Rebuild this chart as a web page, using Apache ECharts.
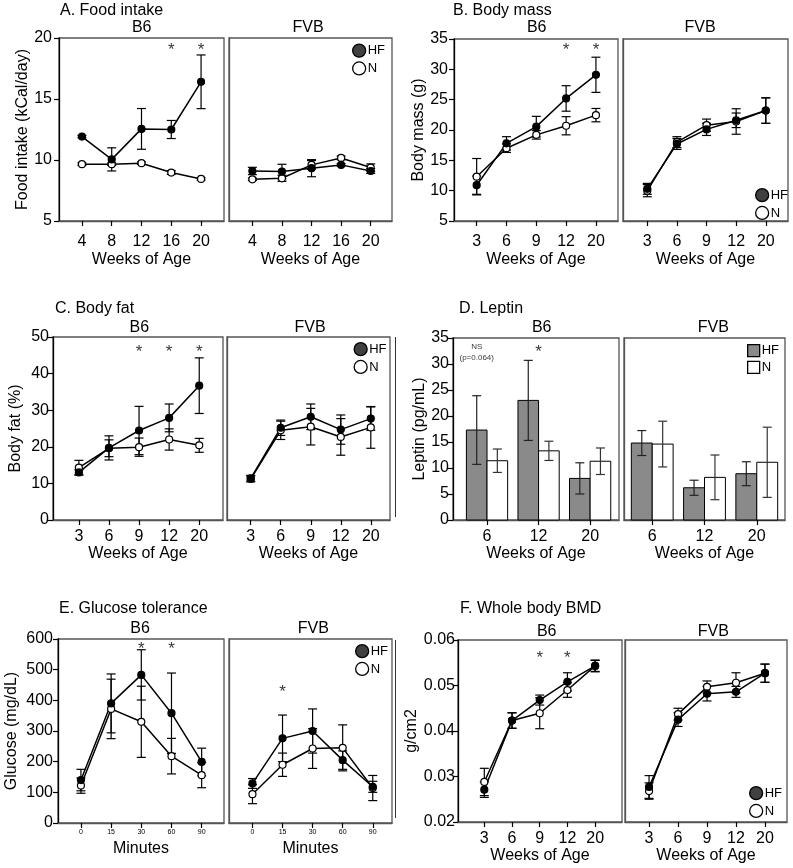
<!DOCTYPE html>
<html><head><meta charset="utf-8">
<script src="https://cdn.jsdelivr.net/npm/echarts@6/dist/echarts.min.js"></script>
<style>html,body{margin:0;padding:0;background:#fff}#c{width:793px;height:868px}</style>
</head><body><div id="c"></div>
<script>
// ---------- tick labels ----------
const weeksA = ['4','8','12','16','20'];
const weeks5 = ['3','6','9','12','20'];
const weeks3 = ['6','12','20'];
const minutes = ['0','15','30','60','90'];

// ---------- A. Food intake ----------
const foodB6_HF = [11.92, 10.05, 12.55, 12.5, 16.41];
const foodB6_HF_err = [0.1, 0.95, 1.67, 0.74, 2.2];
const foodB6_N = [9.66, 9.66, 9.74, 8.97, 8.45];
const foodB6_N_err = [0.1, 0.1, 0.1, 0.15, 0.1];
const foodFVB_HF = [9.1, 9.05, 9.33, 9.6, 9.1];
const foodFVB_HF_err = [0.3, 0.6, 0.7, 0.1, 0.2];
const foodFVB_N = [8.42, 8.5, 9.6, 10.17, 9.38];
const foodFVB_N_err = [0.1, 0.25, 0.35, 0.15, 0.3];
const foodStars = [3, 4];

// ---------- B. Body mass ----------
const massB6_HF = [10.9, 17.8, 20.55, 25.2, 29.1];
const massB6_HF_err = [1.5, 1.1, 1.7, 2.1, 2.9];
const massB6_N = [12.3, 17.0, 19.2, 20.7, 22.45];
const massB6_N_err = [3.0, 0.7, 0.7, 1.5, 1.1];
const massFVB_HF = [10.3, 17.7, 20.1, 21.6, 23.2];
const massFVB_HF_err = [0.9, 0.9, 1.0, 1.2, 2.1];
const massFVB_N = [10.0, 18.0, 20.8, 21.4, 23.2];
const massFVB_N_err = [1.0, 0.9, 1.0, 2.1, 2.1];
const massStars = [3, 4];

// ---------- C. Body fat ----------
const fatB6_HF = [13.0, 19.7, 24.45, 27.9, 36.7];
const fatB6_HF_err = [0.7, 3.3, 6.6, 3.8, 7.6];
const fatB6_N = [14.3, 19.6, 19.9, 22.0, 20.4];
const fatB6_N_err = [2.0, 2.3, 2.5, 2.9, 1.9];
const fatFVB_HF = [11.4, 25.2, 28.2, 24.7, 27.7];
const fatFVB_HF_err = [0.8, 2.1, 3.5, 4.0, 3.2];
const fatFVB_N = [11.2, 24.5, 25.5, 22.7, 25.3];
const fatFVB_N_err = [0.8, 2.5, 5.0, 5.0, 5.7];
const fatStars = [2, 3, 4];

// ---------- D. Leptin ----------
const leptinB6_HF = [17.3, 23.0, 8.0];
const leptinB6_HF_err = [6.6, 7.7, 3.0];
const leptinB6_N = [11.4, 13.3, 11.3];
const leptinB6_N_err = [2.25, 1.85, 2.55];
const leptinFVB_HF = [14.8, 6.2, 8.9];
const leptinFVB_HF_err = [2.4, 1.45, 2.3];
const leptinFVB_N = [14.6, 8.2, 11.1];
const leptinFVB_N_err = [4.4, 4.3, 6.75];
const leptinStars = [1];
const leptinNote = [{ value: [-0.2, 33.3], name: 'NS' }, { value: [-0.2, 31.1], name: '(p=0.064)' }];

// ---------- E. Glucose tolerance ----------
const gluB6_HF = [140, 390, 483, 358, 199];
const gluB6_HF_err = [35, 96, 82, 131, 45];
const gluB6_N = [122, 372, 330, 218, 156];
const gluB6_N_err = [25, 97, 116, 58, 41];
const gluFVB_HF = [129, 276, 300, 205, 118];
const gluFVB_HF_err = [16, 76, 72, 30, 18];
const gluFVB_N = [94, 190, 243, 245, 114];
const gluFVB_N_err = [31, 38, 65, 75, 41];
const gluStarsB6 = [2, 3];
const gluStarsFVB = [1];

// ---------- F. Whole body BMD ----------
const bmdB6_HF = [0.0271, 0.0423, 0.0468, 0.0508, 0.0543];
const bmdB6_HF_err = [0.0017, 0.0017, 0.0011, 0.002, 0.0013];
const bmdB6_N = [0.0288, 0.0423, 0.0439, 0.0490, 0.0543];
const bmdB6_N_err = [0.003, 0.0017, 0.0034, 0.0016, 0.0012];
const bmdFVB_HF = [0.0277, 0.0425, 0.0482, 0.0486, 0.0527];
const bmdFVB_HF_err = [0.0025, 0.0015, 0.0016, 0.0012, 0.002];
const bmdFVB_N = [0.0268, 0.0437, 0.0497, 0.0506, 0.0527];
const bmdFVB_N_err = [0.0018, 0.0013, 0.0013, 0.0022, 0.002];
const bmdStars = [2, 3];

// ================= layout & rendering =================
const FONT = '"Liberation Sans", Arial, sans-serif';
const FRAME = '#555';
const grids = [], xAxes = [], yAxes = [], series = [];

function addPanel(g) {
  const gi = grids.length;
  grids.push({ left: g.l, top: g.t, width: g.w, height: g.h, show: true,
    borderColor: FRAME, borderWidth: 1.3, backgroundColor: 'transparent', containLabel: false });
  const idx = g.labels.map((_, i) => i);
  xAxes.push({ type: 'value', gridIndex: gi, min: g.xmin, max: g.xmax,
    name: g.xname, nameLocation: 'middle', nameGap: g.nameGapX,
    nameTextStyle: { fontSize: 16, color: '#000', fontFamily: FONT },
    axisLine: { show: true, onZero: false, lineStyle: { color: FRAME, width: 1.3 } },
    splitLine: { show: false },
    axisTick: { show: true, customValues: idx, length: 5, lineStyle: { color: '#000', width: 1.2 } },
    axisLabel: { customValues: idx, formatter: v => g.labels[Math.round(v)], fontSize: g.xfs || 16,
      color: '#000', margin: g.xmargin, fontFamily: FONT } });
  const isB6 = g.yname != null;
  yAxes.push({ type: 'value', gridIndex: gi, min: g.ymin, max: g.ymax, interval: g.yint,
    name: isB6 ? g.yname : '', nameLocation: 'middle', nameGap: g.nameGapY || 30,
    nameTextStyle: { fontSize: 16, color: '#000', fontFamily: FONT },
    axisLine: { show: true, onZero: false, lineStyle: { color: isB6 ? '#000' : FRAME, width: 1.3 } },
    axisTick: { show: isB6, length: 5, lineStyle: { color: '#000', width: 1.2 } },
    axisLabel: { show: isB6, fontSize: 16, color: '#000', margin: g.ymargin || 6, fontFamily: FONT,
      formatter: g.yfmt || (v => String(v)) },
    splitLine: { show: false } });
  return gi;
}

function errBars(gi, vals, errs, dx, color) {
  series.push({ type: 'custom', xAxisIndex: gi, yAxisIndex: gi, silent: true, z: 2,
    data: vals.map((v, i) => [i + dx, v - errs[i], v + errs[i]]),
    encode: { x: 0, y: [1, 2] },
    renderItem: (params, api) => {
      const x = api.value(0);
      const lo = api.coord([x, api.value(1)]);
      const hi = api.coord([x, api.value(2)]);
      const hw = 4.5;
      const st = { stroke: color, lineWidth: 1.2 };
      return { type: 'group', children: [
        { type: 'line', shape: { x1: lo[0], y1: lo[1], x2: hi[0], y2: hi[1] }, style: st },
        { type: 'line', shape: { x1: lo[0] - hw, y1: lo[1], x2: lo[0] + hw, y2: lo[1] }, style: st },
        { type: 'line', shape: { x1: hi[0] - hw, y1: hi[1], x2: hi[0] + hw, y2: hi[1] }, style: st }
      ] };
    } });
}

function line(gi, name, vals, filled) {
  series.push({ type: 'line', name, xAxisIndex: gi, yAxisIndex: gi, z: 3,
    data: vals.map((v, i) => [i, v]), symbol: 'circle', symbolSize: 7,
    lineStyle: { color: '#000', width: 1.5 },
    itemStyle: { color: filled ? '#000' : '#fff', borderColor: '#000', borderWidth: 1.2 },
    emphasis: { disabled: true } });
}

const BAR_W = 0.4;
function bars(gi, name, vals, left, fill) {
  series.push({ type: 'custom', name, xAxisIndex: gi, yAxisIndex: gi, z: 1,
    data: vals.map((v, i) => [i, v]), encode: { x: 0, y: 1 },
    renderItem: (params, api) => {
      const x = api.value(0), v = api.value(1);
      const x0 = left ? x - BAR_W : x;
      const p1 = api.coord([x0, v]);
      const p2 = api.coord([x0 + BAR_W, 0]);
      return { type: 'rect', shape: { x: p1[0], y: p1[1], width: p2[0] - p1[0], height: p2[1] - p1[1] },
        style: { fill, stroke: '#000', lineWidth: 1 } };
    } });
}

function stars(gi, xs, y) {
  series.push({ type: 'scatter', xAxisIndex: gi, yAxisIndex: gi, symbolSize: 1, silent: true, z: 5,
    itemStyle: { color: 'rgba(0,0,0,0)' }, data: xs.map(x => [x, y]),
    label: { show: true, position: 'inside', formatter: '*', fontSize: 17, color: '#000', fontFamily: FONT, offset: [0, 4] } });
}

function linePanel(gi, hf, hfErr, n, nErr) {
  errBars(gi, n, nErr, 0, '#000');
  errBars(gi, hf, hfErr, 0, '#000');
  line(gi, 'N', n, false);
  line(gi, 'HF', hf, true);
}

// A
let g = addPanel({ l: 59, t: 38, w: 165, h: 183, xmin: -0.77, xmax: 4.77, labels: weeksA, xname: 'Weeks of Age', nameGapX: 31, xmargin: 13,
  ymin: 5, ymax: 20, yint: 5, yname: 'Food intake (kCal/day)', nameGapY: 19, ymargin: 7 });
linePanel(g, foodB6_HF, foodB6_HF_err, foodB6_N, foodB6_N_err); stars(g, foodStars, 19.3);
g = addPanel({ l: 229, t: 38, w: 163, h: 183, xmin: -0.79, xmax: 4.72, labels: weeksA, xname: 'Weeks of Age', nameGapX: 31, xmargin: 13,
  ymin: 5, ymax: 20, yint: 5 });
linePanel(g, foodFVB_HF, foodFVB_HF_err, foodFVB_N, foodFVB_N_err);
// B
g = addPanel({ l: 454, t: 39, w: 164, h: 182, xmin: -0.76, xmax: 4.74, labels: weeks5, xname: 'Weeks of Age', nameGapX: 31, xmargin: 13,
  ymin: 5, ymax: 35, yint: 5, yname: 'Body mass (g)', nameGapY: 27, ymargin: 6 });
linePanel(g, massB6_HF, massB6_HF_err, massB6_N, massB6_N_err); stars(g, massStars, 33.8);
g = addPanel({ l: 623, t: 39, w: 165, h: 182, xmin: -0.82, xmax: 4.75, labels: weeks5, xname: 'Weeks of Age', nameGapX: 31, xmargin: 13,
  ymin: 5, ymax: 35, yint: 5 });
linePanel(g, massFVB_HF, massFVB_HF_err, massFVB_N, massFVB_N_err);
// C
g = addPanel({ l: 53, t: 337, w: 170, h: 183, xmin: -0.86, xmax: 4.79, labels: weeks5, xname: 'Weeks of Age', nameGapX: 25, xmargin: 9,
  ymin: 0, ymax: 50, yint: 10, yname: 'Body fat (%)', nameGapY: 29, ymargin: 4 });
linePanel(g, fatB6_HF, fatB6_HF_err, fatB6_N, fatB6_N_err); stars(g, fatStars, 46.8);
g = addPanel({ l: 227, t: 337, w: 163, h: 183, xmin: -0.79, xmax: 4.64, labels: weeks5, xname: 'Weeks of Age', nameGapX: 25, xmargin: 9,
  ymin: 0, ymax: 50, yint: 10 });
linePanel(g, fatFVB_HF, fatFVB_HF_err, fatFVB_N, fatFVB_N_err);
// D
g = addPanel({ l: 453, t: 338, w: 166, h: 182, xmin: -0.66, xmax: 2.56, labels: weeks3, xname: 'Weeks of Age', nameGapX: 25, xmargin: 9,
  ymin: 0, ymax: 35, yint: 5, yname: 'Leptin (pg/mL)', nameGapY: 20, ymargin: 4 });
bars(g, 'HF', leptinB6_HF, true, '#8a8a8a'); bars(g, 'N', leptinB6_N, false, '#fff');
errBars(g, leptinB6_HF, leptinB6_HF_err, -BAR_W / 2, '#222'); errBars(g, leptinB6_N, leptinB6_N_err, BAR_W / 2, '#333');
stars(g, leptinStars, 33.1);
series.push({ type: 'scatter', xAxisIndex: g, yAxisIndex: g, symbolSize: 1, silent: true, z: 5,
  itemStyle: { color: 'rgba(0,0,0,0)' }, data: leptinNote,
  label: { show: true, position: 'inside', formatter: '{b}', fontSize: 8, color: '#000', fontFamily: FONT } });
g = addPanel({ l: 624, t: 338, w: 161, h: 182, xmin: -0.54, xmax: 2.54, labels: weeks3, xname: 'Weeks of Age', nameGapX: 25, xmargin: 9,
  ymin: 0, ymax: 35, yint: 5 });
bars(g, 'HF', leptinFVB_HF, true, '#8a8a8a'); bars(g, 'N', leptinFVB_N, false, '#fff');
errBars(g, leptinFVB_HF, leptinFVB_HF_err, -BAR_W / 2, '#222'); errBars(g, leptinFVB_N, leptinFVB_N_err, BAR_W / 2, '#333');
// E
g = addPanel({ l: 58, t: 639, w: 166, h: 184, xmin: -0.76, xmax: 4.74, labels: minutes, xname: 'Minutes', nameGapX: 18, xmargin: 6, xfs: 7,
  ymin: 0, ymax: 600, yint: 100, yname: 'Glucose (mg/dL)', nameGapY: 38, ymargin: 5 });
linePanel(g, gluB6_HF, gluB6_HF_err, gluB6_N, gluB6_N_err); stars(g, gluStarsB6, 581);
g = addPanel({ l: 229, t: 639, w: 163, h: 184, xmin: -0.78, xmax: 4.64, labels: minutes, xname: 'Minutes', nameGapX: 18, xmargin: 6, xfs: 7,
  ymin: 0, ymax: 600, yint: 100 });
linePanel(g, gluFVB_HF, gluFVB_HF_err, gluFVB_N, gluFVB_N_err); stars(g, gluStarsFVB, 440);
// F
g = addPanel({ l: 458, t: 640, w: 164, h: 182, xmin: -0.95, xmax: 4.97, labels: weeks5, xname: 'Weeks of Age', nameGapX: 25, xmargin: 9,
  ymin: 0.02, ymax: 0.06, yint: 0.01, yname: 'g/cm2', nameGapY: 21, ymargin: 3, yfmt: v => v.toFixed(2) });
linePanel(g, bmdB6_HF, bmdB6_HF_err, bmdB6_N, bmdB6_N_err); stars(g, bmdStars, 0.0569);
g = addPanel({ l: 625, t: 640, w: 162, h: 182, xmin: -0.83, xmax: 4.76, labels: weeks5, xname: 'Weeks of Age', nameGapX: 25, xmargin: 9,
  ymin: 0.02, ymax: 0.06, yint: 0.01 });
linePanel(g, bmdFVB_HF, bmdFVB_HF_err, bmdFVB_N, bmdFVB_N_err);

// legends
function legend(left, top, rect) {
  const ic = rect ? 'rect' : 'circle';
  const s = rect ? 12 : 13;
  return { left, top, orient: 'vertical', itemWidth: s, itemHeight: s, itemGap: 3.5, padding: 0,
    selectedMode: false, textStyle: { fontSize: 13, color: '#000', fontFamily: FONT, padding: [0, 0, 0, -3] },
    data: [
      { name: 'HF', icon: ic, itemStyle: { color: rect ? '#8a8a8a' : '#404040', borderColor: '#000', borderWidth: 1.3 } },
      { name: 'N', icon: ic, itemStyle: { color: '#fff', borderColor: '#000', borderWidth: 1.3 } }
    ] };
}
const legends = [legend(352, 43.5), legend(755, 188), legend(353.5, 342), legend(747, 344, true), legend(355, 644), legend(749, 786)];

// text
function txt(x, y, text, align, size) {
  return { type: 'text', x, y, silent: true,
    style: { text, fill: '#000', font: (size || 16) + 'px ' + FONT, textAlign: align || 'left', textVerticalAlign: 'middle' } };
}
const graphics = [
  txt(60, 11, 'A. Food intake'), txt(453, 11, 'B. Body mass'),
  txt(55, 309, 'C. Body fat'), txt(459, 309, 'D. Leptin'),
  txt(59, 609, 'E. Glucose tolerance'), txt(460, 609, 'F. Whole body BMD'),
  txt(141.7, 28, 'B6', 'center'), txt(308, 28, 'FVB', 'center'),
  txt(536.7, 28, 'B6', 'center'), txt(700, 28, 'FVB', 'center'),
  txt(139.3, 327.3, 'B6', 'center'), txt(310, 327.3, 'FVB', 'center'),
  txt(541.7, 327.3, 'B6', 'center'), txt(713.3, 327.3, 'FVB', 'center'),
  txt(140, 628.3, 'B6', 'center'), txt(313.3, 628.3, 'FVB', 'center'),
  txt(546.7, 631.7, 'B6', 'center'), txt(713.3, 631.7, 'FVB', 'center'),
  { type: 'line', silent: true, shape: { x1: 395.5, y1: 337, x2: 395.5, y2: 517 }, style: { stroke: '#333', lineWidth: 1 } },
  { type: 'line', silent: true, shape: { x1: 395.5, y1: 640, x2: 395.5, y2: 818 }, style: { stroke: '#333', lineWidth: 1 } }
];

const chart = echarts.init(document.getElementById('c'), null, { renderer: 'canvas' });
chart.setOption({
  animation: false, backgroundColor: '#fff',
  textStyle: { fontFamily: FONT },
  grid: grids, xAxis: xAxes, yAxis: yAxes, legend: legends, series, graphic: graphics
});
</script></body></html>
